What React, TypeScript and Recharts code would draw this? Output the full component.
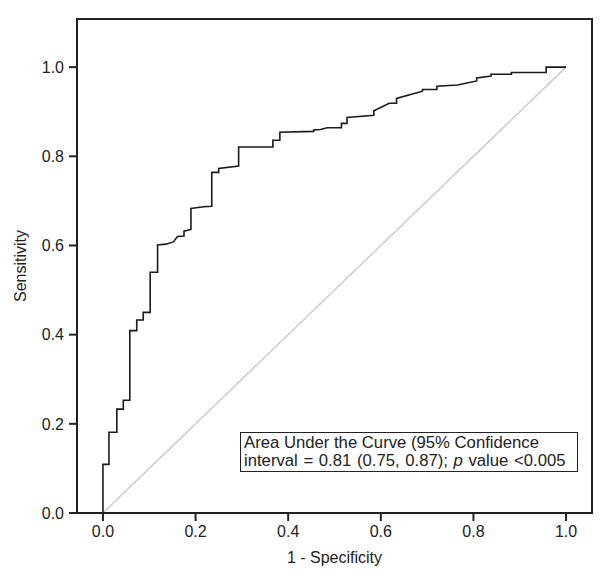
import React from 'react';
import { LineChart, Line, XAxis, YAxis, ReferenceLine, ReferenceArea, CartesianGrid } from 'recharts';

// 1 - specificity (false positive rate) at each step of the ROC curve
const fpr = [
  0, 0, 0.013, 0.013, 0.03, 0.03, 0.044, 0.044, 0.058, 0.058, 0.073, 0.073, 0.087, 0.087,
  0.102, 0.102, 0.118, 0.118, 0.136, 0.152, 0.161, 0.175, 0.175, 0.19, 0.19, 0.217, 0.235,
  0.235, 0.25, 0.25, 0.293, 0.293, 0.367, 0.367, 0.382, 0.382, 0.455, 0.455, 0.47, 0.484,
  0.515, 0.515, 0.527, 0.527, 0.585, 0.585, 0.603, 0.618, 0.634, 0.634, 0.69, 0.69, 0.721,
  0.721, 0.766, 0.807, 0.807, 0.838, 0.838, 0.882, 0.882, 0.957, 0.957, 1.0,
];

// sensitivity at each step
const tpr = [
  0, 0.109, 0.109, 0.181, 0.181, 0.233, 0.233, 0.253, 0.253, 0.409, 0.409, 0.433, 0.433, 0.45,
  0.45, 0.54, 0.54, 0.601, 0.603, 0.608, 0.62, 0.621, 0.632, 0.636, 0.683, 0.687, 0.688,
  0.764, 0.764, 0.773, 0.778, 0.821, 0.821, 0.836, 0.836, 0.854, 0.856, 0.859, 0.86, 0.864,
  0.864, 0.874, 0.874, 0.887, 0.892, 0.902, 0.911, 0.919, 0.919, 0.93, 0.946, 0.95, 0.95,
  0.957, 0.96, 0.969, 0.976, 0.98, 0.984, 0.984, 0.988, 0.988, 1.0, 1.0,
];

const ticks = [0, 0.2, 0.4, 0.6, 0.8, 1.0];
const xDomain = [-0.056, 1.056];
const yDomain = [0, 1.108];

const rocData = fpr.map((x, i) => ({ x, y: tpr[i] }));

const W = 603;
const H = 586;
const margin = { top: 19, right: 11, bottom: 23, left: 17 };
const yAxisW = 60;
const xAxisH = 50;
const plot = {
  x: margin.left + yAxisW,
  y: margin.top,
  w: W - margin.left - yAxisW - margin.right,
  h: H - margin.top - margin.bottom - xAxisH,
};

const font = '"Liberation Sans", Arial, sans-serif';
const ink = '#222';

export default function App() {
  const tickStyle = { fontSize: 16, fill: ink, fontFamily: font };
  const labelStyle = { fontSize: 16, fill: ink, fontFamily: font };
  return (
    <div style={{ position: 'relative', width: W, height: H, margin: -8, background: '#fff' }}>
      <LineChart width={W} height={H} data={rocData} margin={margin}>
        {/* top and right edges of the plot frame */}
        <CartesianGrid
          stroke={ink}
          strokeWidth={2}
          horizontalCoordinatesGenerator={() => [plot.y]}
          verticalCoordinatesGenerator={() => [plot.x + plot.w]}
        />
        <XAxis
          type="number"
          dataKey="x"
          domain={xDomain}
          allowDataOverflow
          ticks={ticks}
          tickFormatter={(v: number) => v.toFixed(1)}
          height={xAxisH}
          tickSize={8}
          tickMargin={5}
          stroke={ink}
          strokeWidth={2}
          tick={tickStyle}
          label={{ value: '1 - Specificity', position: 'insideBottom', offset: 0, style: labelStyle }}
        />
        <YAxis
          type="number"
          domain={yDomain}
          allowDataOverflow
          ticks={ticks}
          tickFormatter={(v: number) => v.toFixed(1)}
          width={yAxisW}
          tickSize={8}
          tickMargin={5}
          stroke={ink}
          strokeWidth={2}
          tick={tickStyle}
          label={{ value: 'Sensitivity', angle: -90, position: 'insideLeft', offset: 3, style: { ...labelStyle, textAnchor: 'middle' } }}
        />
        <ReferenceArea
          x1={xDomain[0]}
          x2={xDomain[1]}
          y1={yDomain[0]}
          y2={yDomain[1]}
          fill="none"
          stroke={ink}
          strokeWidth={2}
        />
        <ReferenceLine
          segment={[{ x: 0, y: 0 }, { x: 1, y: 1 }]}
          stroke="#cccccc"
          strokeWidth={1.5}
        />
        <Line
          type="linear"
          dataKey="y"
          stroke="#1a1a1a"
          strokeWidth={1.6}
          dot={false}
          isAnimationActive={false}
        />
      </LineChart>
      {/* plot frame and picture border */}
      <svg
        width={W}
        height={H}
        style={{ position: 'absolute', left: 0, top: 0, pointerEvents: 'none', zIndex: 2 }}
      >
        <rect x={plot.x} y={plot.y} width={plot.w} height={plot.h} fill="none" stroke={ink} strokeWidth={2} />
        <rect x={1} y={1} width={W - 2} height={H - 2} fill="none" stroke="#333" strokeWidth={2} />
      </svg>
      <div
        style={{
          position: 'absolute', left: 240, top: 432, width: 338, height: 40,
          boxSizing: 'border-box', border: `1px solid ${ink}`, background: '#fff',
          fontFamily: font, fontSize: 16.7, lineHeight: '18px', color: ink, padding: '1px 0 0 3px',
          whiteSpace: 'nowrap', zIndex: 3,
        }}
      >
        Area Under the Curve (95% Confidence
        <br />
        <span style={{ wordSpacing: 1 }}>
          interval = 0.81 (0.75, 0.87); <i>p</i> value &lt;0.005
        </span>
      </div>
    </div>
  );
}
